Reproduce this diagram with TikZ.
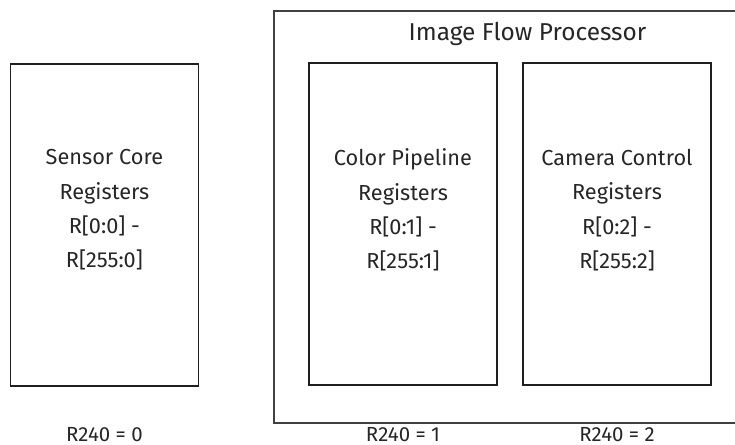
\documentclass[tikz,border=0pt]{standalone}
\usepackage{fontspec}
\setmainfont{Fira Sans}
\begin{document}
\begin{tikzpicture}[x=1bp,y=-1bp,
  regbox/.style={draw=black!88,line width=1.5bp,minimum width=188bp,minimum height=322bp,inner sep=0pt},
  outerbox/.style={draw=black!75,line width=1.5bp},
  regtext/.style={align=center,inner sep=0pt,font=\fontsize{21.8}{34.5}\selectfont,text=black!85},
  titletext/.style={inner sep=0pt,font=\fontsize{24.5}{28}\selectfont,text=black!85},
  seltext/.style={inner sep=0pt,anchor=base,font=\fontsize{20.5}{24}\selectfont,text=black!85}]
\useasboundingbox (0,0) rectangle (735,445);
\clip (0,0) rectangle (735,445);
\draw[outerbox] (274,11) rectangle (760,423);
\node[titletext] (title) at (527.5,34) {Image Flow Processor};
\node[regbox] (sensor) at (104.4,225) {};
\node[regbox] (color) at (403,224) {};
\node[regbox] (camera) at (617,224) {};
\node[regtext] (sensortxt) at (104.4,210) {Sensor Core\\Registers\\R[0:0] -\\R[255:0]};
\node[regtext] (colortxt) at (403,210) {Color Pipeline\\Registers\\R[0:1] -\\R[255:1]};
\node[regtext] (cameratxt) at (617,210) {Camera Control\\Registers\\R[0:2] -\\R[255:2]};
\node[seltext] (sel0) at (104.4,441) {R240 = 0};
\node[seltext] (sel1) at (403,441) {R240 = 1};
\node[seltext] (sel2) at (617,441) {R240 = 2};
\end{tikzpicture}
\end{document}
